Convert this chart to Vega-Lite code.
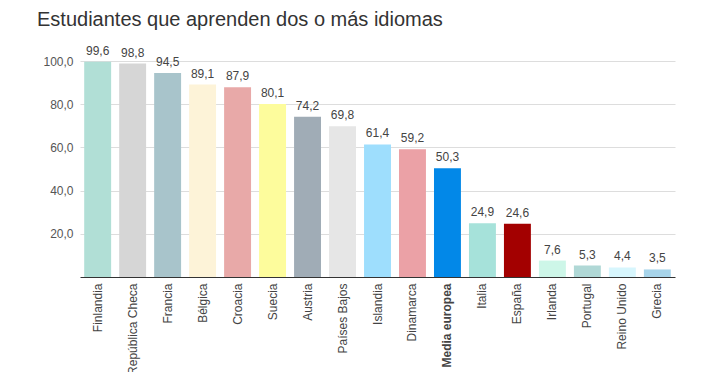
{
  "$schema": "https://vega.github.io/schema/vega-lite/v6.json",
  "autosize": {"type": "none"},
  "width": 595,
  "height": 216,
  "padding": {"left": 80, "top": 61, "right": 39, "bottom": 95},
  "background": "#ffffff",
  "title": {
    "text": "Estudiantes que aprenden dos o más idiomas",
    "anchor": "start",
    "frame": "group",
    "dx": -43,
    "offset": 15,
    "fontSize": 20,
    "fontWeight": "normal",
    "font": "Liberation Sans",
    "color": "#333333"
  },
  "config": {
    "locale": {"number": {"decimal": ",", "thousands": ".", "grouping": [3], "currency": ["", " €"]}},
    "view": {"stroke": null},
    "font": "Liberation Sans"
  },
  "data": {
    "values": [
      {"pais": "Finlandia", "valor": 99.6, "color": "#b1dfd6"},
      {"pais": "República Checa", "valor": 98.8, "color": "#d6d6d6"},
      {"pais": "Francia", "valor": 94.5, "color": "#a8c4cb"},
      {"pais": "Bélgica", "valor": 89.1, "color": "#fdf3d8"},
      {"pais": "Croacia", "valor": 87.9, "color": "#e8a9a8"},
      {"pais": "Suecia", "valor": 80.1, "color": "#fdfc9c"},
      {"pais": "Austria", "valor": 74.2, "color": "#a0acb6"},
      {"pais": "Países Bajos", "valor": 69.8, "color": "#e6e6e6"},
      {"pais": "Islandia", "valor": 61.4, "color": "#9edefd"},
      {"pais": "Dinamarca", "valor": 59.2, "color": "#eba1a6"},
      {"pais": "Media europea", "valor": 50.3, "color": "#0288e8"},
      {"pais": "Italia", "valor": 24.9, "color": "#a6e2da"},
      {"pais": "España", "valor": 24.6, "color": "#a30000"},
      {"pais": "Irlanda", "valor": 7.6, "color": "#cdf6e8"},
      {"pais": "Portugal", "valor": 5.3, "color": "#b0d8d6"},
      {"pais": "Reino Unido", "valor": 4.4, "color": "#d7f6fd"},
      {"pais": "Grecia", "valor": 3.5, "color": "#a7d4ea"}
    ]
  },
  "encoding": {
    "x": {
      "field": "pais",
      "type": "nominal",
      "sort": null,
      "scale": {"paddingInner": 0.23, "paddingOuter": 0.12},
      "axis": {
        "title": null,
        "labelAngle": -90,
        "labelFontSize": 12,
        "labelColor": "#444444",
        "labelPadding": 6,
        "labelFontWeight": {"condition": {"test": "datum.value == 'Media europea'", "value": "bold"}, "value": "normal"},
        "ticks": false,
        "domainColor": "#333333",
        "domainWidth": 1
      }
    },
    "y": {
      "field": "valor",
      "type": "quantitative",
      "scale": {"domain": [0, 100], "nice": false},
      "axis": {
        "title": null,
        "values": [20, 40, 60, 80, 100],
        "format": ".1f",
        "labelFontSize": 12,
        "labelColor": "#555555",
        "labelPadding": 7,
        "ticks": false,
        "domain": false,
        "gridColor": "#dddddd"
      }
    }
  },
  "layer": [
    {
      "mark": {"type": "bar"},
      "encoding": {
        "color": {"field": "color", "type": "nominal", "scale": null}
      }
    },
    {
      "mark": {"type": "text", "baseline": "bottom", "dy": -4, "fontSize": 12, "color": "#444444"},
      "encoding": {
        "text": {"field": "valor", "type": "quantitative", "format": ".1f"}
      }
    }
  ]
}
